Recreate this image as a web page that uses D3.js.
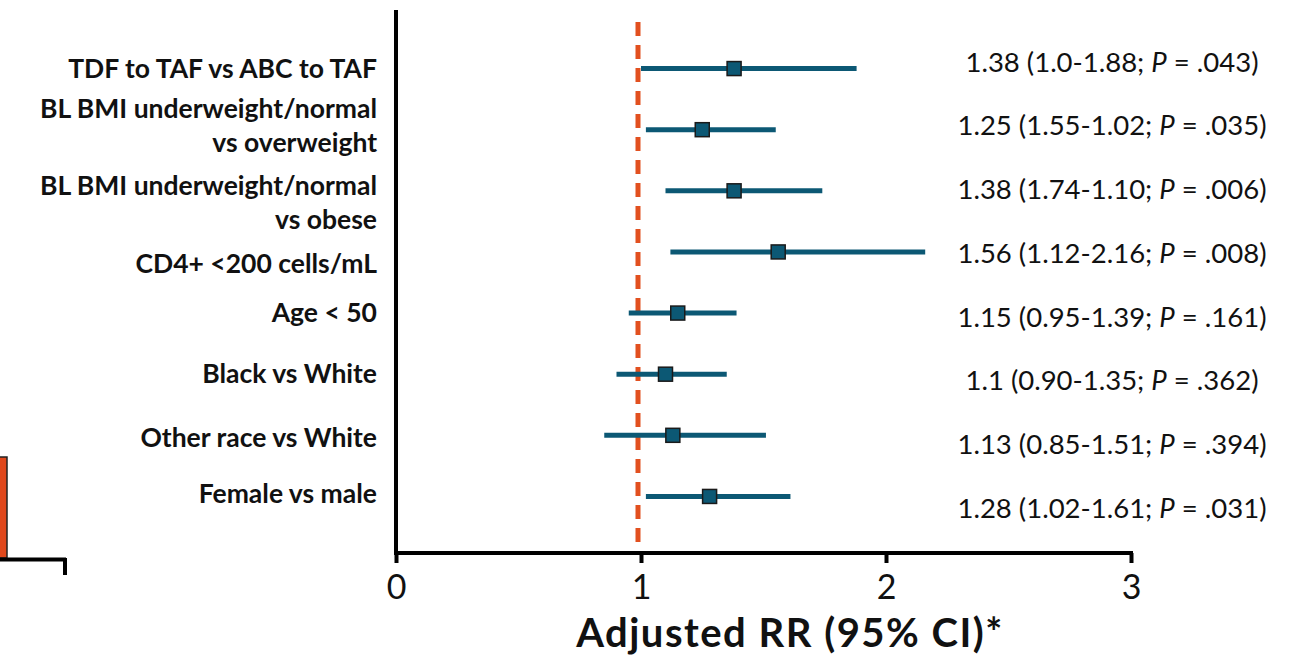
<!DOCTYPE html>
<html>
<head>
<meta charset="utf-8">
<script src="https://cdn.jsdelivr.net/npm/d3@7"></script>
<style>
  html, body { margin: 0; padding: 0; background: #ffffff; }
  svg { display: block; }
  text { font-family: Lato, "Open Sans", "DejaVu Sans", sans-serif; fill: #111; }
</style>
</head>
<body>
<svg id="chart" width="1294" height="655"></svg>
<script>
// Row labels (lines of each label)
const categories = [
  ["TDF to TAF vs ABC to TAF"],
  ["BL BMI underweight/normal", "vs overweight"],
  ["BL BMI underweight/normal", "vs obese"],
  ["CD4+ <200 cells/mL"],
  ["Age < 50"],
  ["Black vs White"],
  ["Other race vs White"],
  ["Female vs male"]
];
// Adjusted risk ratio and 95% CI bounds
const rr     = [1.38, 1.25, 1.38, 1.56, 1.15, 1.10, 1.13, 1.28];
const ciLow  = [1.00, 1.02, 1.10, 1.12, 0.95, 0.90, 0.85, 1.02];
const ciHigh = [1.88, 1.55, 1.74, 2.16, 1.39, 1.35, 1.51, 1.61];
// Text as printed in the estimate column
const rrText = ["1.38", "1.25", "1.38", "1.56", "1.15", "1.1", "1.13", "1.28"];
const ciText = ["1.0-1.88", "1.55-1.02", "1.74-1.10", "1.12-2.16", "0.95-1.39", "0.90-1.35", "0.85-1.51", "1.02-1.61"];
const pText  = [".043", ".035", ".006", ".008", ".161", ".362", ".394", ".031"];
const xTicks = [0, 1, 2, 3];
const refValue = 1;
const axisTitle = "Adjusted RR (95% CI)*";

const svg = d3.select("#chart");

const x = d3.scaleLinear().domain([0, 3]).range([396, 1131]);
const idx = d3.range(categories.length);
const y = d3.scaleBand().domain(idx).range([38, 527]);
const yText = d3.scaleBand().domain(idx).range([30, 540]);
const yc = i => y(i) + y.bandwidth() / 2;

const axisY = 553;
const lineColor = "#0c5874";
const refColor = "#e2501f";

// Fragment of a neighbouring panel at the left edge
svg.append("rect")
  .attr("x", -10).attr("y", 457).attr("width", 17).attr("height", 101)
  .attr("fill", "#e0481c").attr("stroke", "#222").attr("stroke-width", 1.5);
svg.append("path")
  .attr("d", "M0,559.5H66M65,558V575")
  .attr("fill", "none").attr("stroke", "#000").attr("stroke-width", 4);

// Reference line at RR = 1
svg.append("line")
  .attr("x1", x(refValue) - 3).attr("x2", x(refValue) - 3)
  .attr("y1", 22).attr("y2", axisY)
  .attr("stroke", refColor).attr("stroke-width", 5)
  .attr("stroke-dasharray", "14,9");

// X axis
const xAxis = d3.axisBottom(x).tickValues(xTicks).tickFormat(d3.format("d"))
  .tickSize(10).tickPadding(12);
const gx = svg.append("g").attr("transform", `translate(0,${axisY})`).call(xAxis);
gx.select(".domain").attr("stroke", "#000").attr("stroke-width", 4)
  .attr("d", `M${x(0) - 2},0H${x(3) + 2}`);
gx.selectAll(".tick line").attr("stroke", "#000").attr("stroke-width", 4);
gx.selectAll(".tick text")
  .attr("font-size", 34).attr("fill", "#111")
  .style("font-family", "Lato, 'Open Sans', sans-serif");

// Y axis line
svg.append("line")
  .attr("x1", x(0)).attr("x2", x(0))
  .attr("y1", 10).attr("y2", axisY + 2)
  .attr("stroke", "#000").attr("stroke-width", 4);

// Axis title
svg.append("text")
  .attr("x", 790).attr("y", 647)
  .attr("text-anchor", "middle")
  .attr("font-size", 40).attr("font-weight", 700)
  .attr("letter-spacing", 1.5)
  .text(axisTitle);

// Row labels
const labelNudge = [0, -4, 12, 12, 0, 0, 2, -3];
const lineH = 34;
const labels = svg.append("g");
categories.forEach((lines, i) => {
  const cy = yc(i) + labelNudge[i];
  const t = labels.append("text")
    .attr("x", 377)
    .attr("text-anchor", "end")
    .attr("font-size", 26.5).attr("font-weight", 700);
  lines.forEach((ln, k) => {
    t.append("tspan")
      .attr("x", 377)
      .attr("y", cy + (k - (lines.length - 1) / 2) * lineH)
      .attr("dy", "0.35em")
      .text(ln);
  });
});

// CI whiskers
svg.append("g").selectAll("line")
  .data(idx).join("line")
  .attr("x1", i => x(Math.min(ciLow[i], ciHigh[i])))
  .attr("x2", i => x(Math.max(ciLow[i], ciHigh[i])))
  .attr("y1", yc).attr("y2", yc)
  .attr("stroke", lineColor).attr("stroke-width", 5);

// Point estimates
const sq = 14;
svg.append("g").selectAll("rect")
  .data(idx).join("rect")
  .attr("x", i => x(rr[i]) - sq / 2)
  .attr("y", i => yc(i) - sq / 2)
  .attr("width", sq).attr("height", sq)
  .attr("fill", lineColor).attr("stroke", "#1a1a1a").attr("stroke-width", 1.5);

// Estimate column
const est = svg.append("g");
idx.forEach(i => {
  const t = est.append("text")
    .attr("x", 1112).attr("y", yText(i) + yText.bandwidth() / 2)
    .attr("dy", "0.35em")
    .attr("text-anchor", "middle")
    .attr("font-size", 27.5);
  t.append("tspan").text(`${rrText[i]} (${ciText[i]}; `);
  t.append("tspan").attr("font-style", "italic").text("P");
  t.append("tspan").text(` = ${pText[i]})`);
});
</script>
</body>
</html>
